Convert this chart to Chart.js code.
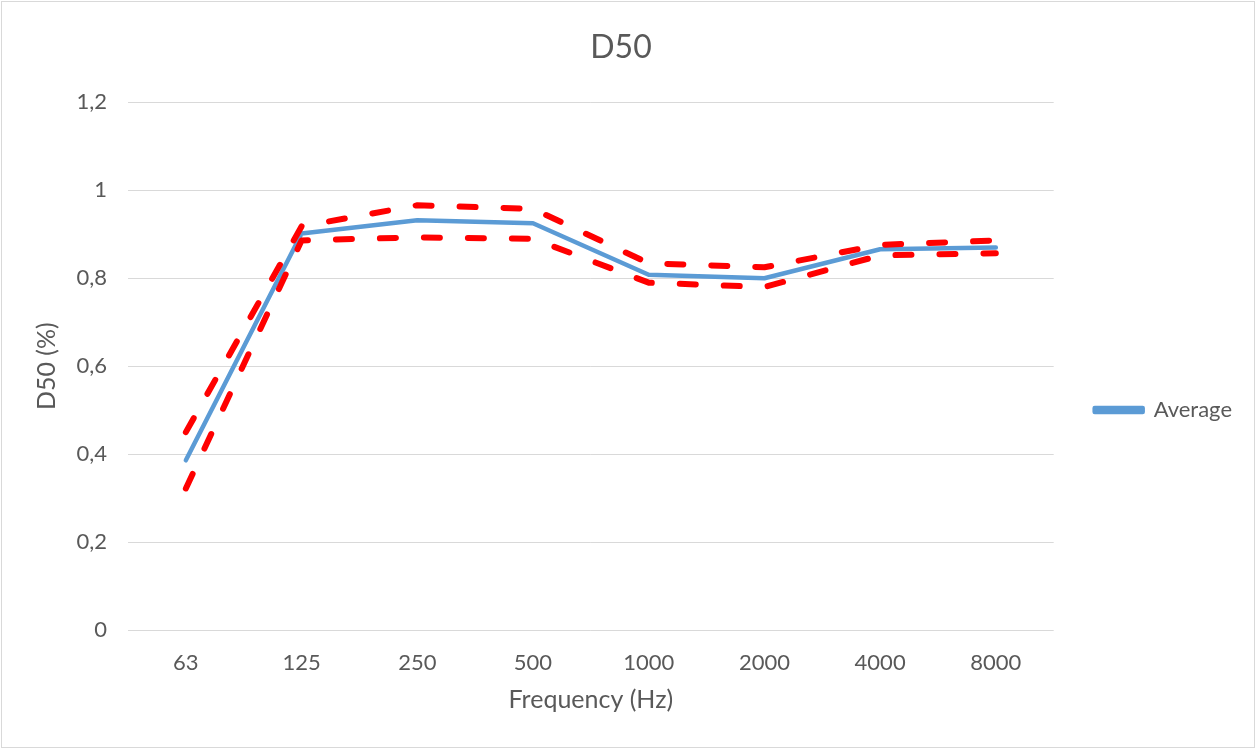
<!DOCTYPE html>
<html>
<head>
<meta charset="utf-8">
<script src="https://cdn.jsdelivr.net/npm/chart.js@4.4.1/dist/chart.umd.min.js"></script>
<style>
  html, body { margin: 0; padding: 0; background: #ffffff; }
  #wrap { position: relative; width: 1256px; height: 749px; }
  canvas { display: block; }
</style>
</head>
<body>
<div id="wrap"><canvas id="c" width="1256" height="749"></canvas></div>
<script>
const categories = ['63', '125', '250', '500', '1000', '2000', '4000', '8000'];
const averageValues = [0.386, 0.902, 0.932, 0.925, 0.808, 0.800, 0.866, 0.870];
const upperValues   = [0.450, 0.918, 0.966, 0.958, 0.834, 0.825, 0.876, 0.886];
const lowerValues   = [0.322, 0.886, 0.893, 0.890, 0.790, 0.780, 0.852, 0.857];
const yTickValues = [0, 0.2, 0.4, 0.6, 0.8, 1.0, 1.2];

const textColor = '#595959';
const gridColor = '#d9d9d9';
const fontFamily = 'Lato, "Open Sans", sans-serif';

const borderPlugin = {
  id: 'outerBorder',
  beforeDraw(chart) {
    const ctx = chart.ctx;
    ctx.save();
    ctx.fillStyle = '#ffffff';
    ctx.fillRect(0, 0, chart.width, chart.height);
    ctx.restore();
  },
  afterDraw(chart) {
    const ctx = chart.ctx;
    ctx.save();
    ctx.strokeStyle = gridColor;
    ctx.lineWidth = 1;
    ctx.strokeRect(1.5, 1.5, chart.width - 3, chart.height - 3);
    ctx.restore();
  }
};

new Chart(document.getElementById('c'), {
  type: 'line',
  data: {
    labels: categories,
    datasets: [
      {
        label: 'Upper',
        data: upperValues,
        borderColor: '#ff0000',
        backgroundColor: '#ff0000',
        borderWidth: 6,
        borderDash: [16, 28],
        borderCapStyle: 'round',
        borderJoinStyle: 'round',
        pointRadius: 0,
        tension: 0,
        fill: false
      },
      {
        label: 'Lower',
        data: lowerValues,
        borderColor: '#ff0000',
        backgroundColor: '#ff0000',
        borderWidth: 6,
        borderDash: [16, 28],
        borderCapStyle: 'round',
        borderJoinStyle: 'round',
        pointRadius: 0,
        tension: 0,
        fill: false
      },
      {
        label: 'Average',
        data: averageValues,
        borderColor: '#5b9bd5',
        backgroundColor: '#5b9bd5',
        borderWidth: 4.5,
        borderCapStyle: 'round',
        borderJoinStyle: 'round',
        pointRadius: 0,
        tension: 0,
        fill: false
      }
    ]
  },
  options: {
    responsive: false,
    animation: false,
    devicePixelRatio: 1,
    layout: { padding: { left: 0, right: 14, top: 0, bottom: 0 } },
    plugins: {
      title: {
        display: true,
        text: 'D50',
        color: textColor,
        font: { family: fontFamily, size: 32, weight: 'normal' },
        padding: { top: 28, bottom: 36 }
      },
      legend: {
        display: true,
        position: 'right',
        align: 'center',
        title: {
          display: true,
          text: ' ',
          font: { size: 1 },
          padding: { top: 0, bottom: 70 }
        },
        labels: {
          filter: (item) => item.text === 'Average',
          color: textColor,
          font: { family: fontFamily, size: 22 },
          boxWidth: 48,
          boxHeight: 4,
          padding: 41
        }
      },
      tooltip: { enabled: false }
    },
    scales: {
      x: {
        type: 'category',
        offset: true,
        grid: { display: false, drawTicks: false },
        border: { display: false },
        ticks: {
          color: textColor,
          font: { family: fontFamily, size: 22 },
          padding: 20,
          maxRotation: 0,
          autoSkip: false
        },
        title: {
          display: true,
          text: 'Frequency (Hz)',
          color: textColor,
          font: { family: fontFamily, size: 25 },
          padding: { top: 0, bottom: 34 }
        },
        afterFit: (scale) => { scale.height = 119; }
      },
      y: {
        min: 0,
        max: 1.2,
        afterBuildTicks: (scale) => { scale.ticks = yTickValues.map(v => ({ value: v })); },
        grid: { color: gridColor, lineWidth: 1, drawTicks: false },
        border: { display: false },
        ticks: {
          color: textColor,
          font: { family: fontFamily, size: 22 },
          padding: 21,
          callback: (v) => String(Math.round(v * 10) / 10).replace('.', ',')
        },
        title: {
          display: true,
          text: 'D50 (%)',
          color: textColor,
          font: { family: fontFamily, size: 25 },
          padding: { top: 32, bottom: 0 }
        },
        afterFit: (scale) => { scale.width = 128; }
      }
    }
  },
  plugins: [borderPlugin]
});
</script>
</body>
</html>
